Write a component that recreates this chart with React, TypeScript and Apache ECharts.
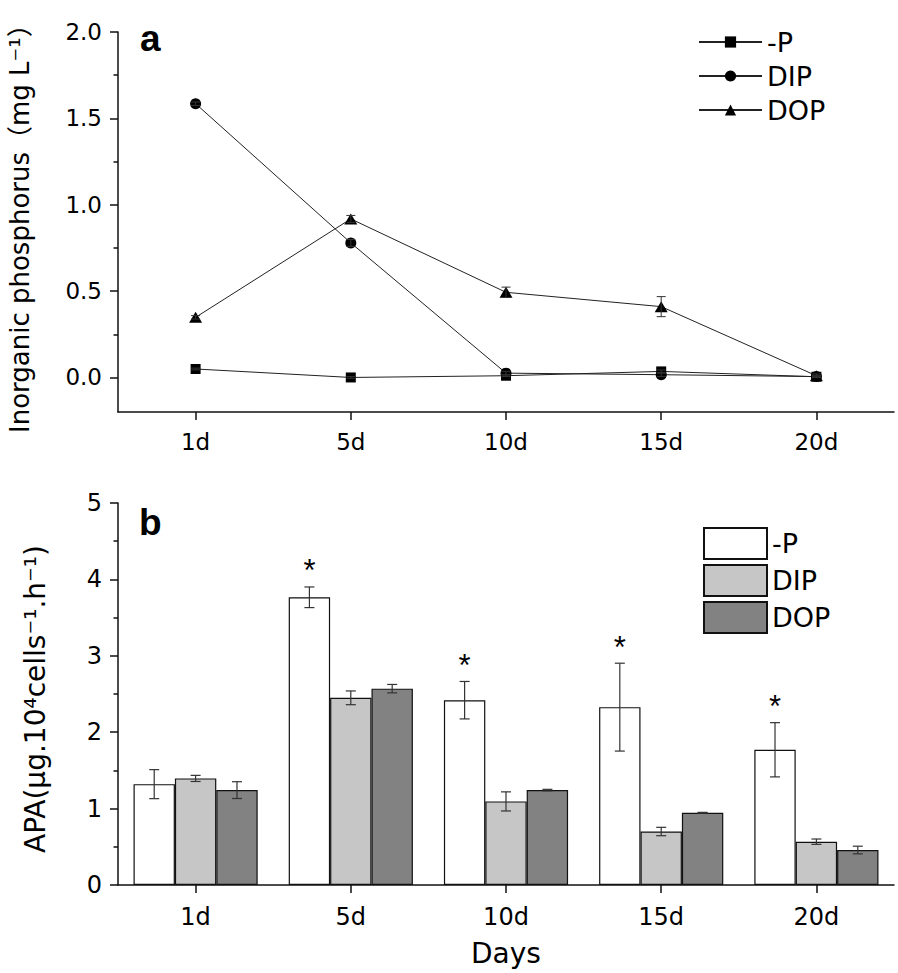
import React, { useEffect, useRef } from 'react';
import * as echarts from 'echarts';

// Categories
const days = ['1d', '5d', '10d', '15d', '20d'];
const treatments = ['-P', 'DIP', 'DOP'];

// Panel a: inorganic phosphorus (mg L-1)
const piMinusP = [0.049, 0.0, 0.01, 0.035, 0.004];
const piDIP = [1.585, 0.779, 0.025, 0.016, 0.005];
const piDOP = [0.348, 0.918, 0.493, 0.41, 0.01];
const piMinusPErr = [0.005, 0.005, 0.005, 0.008, 0.003];
const piDIPErr = [0.01, 0.02, 0.01, 0.01, 0.005];
const piDOPErr = [0.01, 0.02, 0.03, 0.058, 0.01];
const piTicks = [0, 0.5, 1, 1.5, 2];
const piMinorTicks = [0.25, 0.75, 1.25, 1.75];

// Panel b: APA (µg.10^4 cells^-1.h^-1)
const apaMinusP = [1.32, 3.766, 2.419, 2.328, 1.77];
const apaDIP = [1.395, 2.45, 1.094, 0.7, 0.567];
const apaDOP = [1.242, 2.57, 1.242, 0.946, 0.458];
const apaMinusPErr = [0.19, 0.135, 0.245, 0.575, 0.355];
const apaDIPErr = [0.04, 0.09, 0.125, 0.055, 0.035];
const apaDOPErr = [0.11, 0.055, 0.01, 0.005, 0.05];
const apaSignificant = [false, true, true, true, true];

const FONT = 'DejaVu Sans';
const AX = '#111';

function App() {
  const ref = useRef<HTMLDivElement>(null);
  useEffect(() => {
    if (!ref.current) return;
    const chart = echarts.init(ref.current, null, { renderer: 'svg' });

    const lineErr = (params: any, api: any) => {
      const i = api.value(0);
      const v = api.value(1);
      const e = api.value(2);
      if (!(e > 0)) return null;
      const t = api.coord([i, v + e]);
      const b = api.coord([i, v - e]);
      const hw = 4.5;
      const st = { stroke: '#333', lineWidth: 1 };
      return {
        type: 'group',
        children: [
          { type: 'line', shape: { x1: t[0], y1: t[1], x2: b[0], y2: b[1] }, style: st },
          { type: 'line', shape: { x1: t[0] - hw, y1: t[1], x2: t[0] + hw, y2: t[1] }, style: st },
          { type: 'line', shape: { x1: b[0] - hw, y1: b[1], x2: b[0] + hw, y2: b[1] }, style: st },
        ],
      };
    };

    const barErr = (k: number) => (params: any, api: any) => {
      const i = api.value(0);
      const v = api.value(1);
      const e = api.value(2);
      const star = api.value(3);
      const band = api.size([1, 0])[0];
      const bw = (band * 0.8) / 3;
      const off = (k - 1) * bw;
      const t = api.coord([i, v + e]);
      const b = api.coord([i, v - e]);
      const x = t[0] + off;
      const hw = 5;
      const st = { stroke: '#333', lineWidth: 1.2 };
      const children: any[] = [
        { type: 'line', shape: { x1: x, y1: t[1], x2: x, y2: b[1] }, style: st },
        { type: 'line', shape: { x1: x - hw, y1: t[1], x2: x + hw, y2: t[1] }, style: st },
        { type: 'line', shape: { x1: x - hw, y1: b[1], x2: x + hw, y2: b[1] }, style: st },
      ];
      if (star) {
        children.push({
          type: 'text',
          x: x,
          y: t[1] - 16,
          style: {
            text: '*',
            fontSize: 31,
            fontFamily: 'Liberation Sans',
            fill: '#000',
            align: 'center',
            verticalAlign: 'middle',
          },
        });
      }
      return { type: 'group', children };
    };

    const linePairs = [
      { name: treatments[0], vals: piMinusP, errs: piMinusPErr, symbol: 'rect', size: 10 },
      { name: treatments[1], vals: piDIP, errs: piDIPErr, symbol: 'circle', size: 11 },
      { name: treatments[2], vals: piDOP, errs: piDOPErr, symbol: 'triangle', size: [13, 11] },
    ];
    const barPairs = [
      { name: treatments[0] + ' ', vals: apaMinusP, errs: apaMinusPErr, color: '#ffffff' },
      { name: treatments[1] + ' ', vals: apaDIP, errs: apaDIPErr, color: '#c6c6c6' },
      { name: treatments[2] + ' ', vals: apaDOP, errs: apaDOPErr, color: '#828282' },
    ];

    const series: any[] = [];
    linePairs.forEach((p) => {
      series.push({
        type: 'line',
        name: p.name,
        xAxisIndex: 0,
        yAxisIndex: 0,
        data: p.vals,
        symbol: p.symbol,
        symbolSize: p.size,
        showAllSymbol: true,
        lineStyle: { color: '#222', width: 1 },
        itemStyle: { color: '#000' },
        z: 3,
      });
      series.push({
        type: 'custom',
        xAxisIndex: 0,
        yAxisIndex: 0,
        renderItem: lineErr,
        data: p.vals.map((v, i) => [i, v, p.errs[i]]),
        encode: { x: 0, y: 1 },
        z: 4,
        silent: true,
      });
    });
    barPairs.forEach((p, k) => {
      series.push({
        type: 'bar',
        name: p.name,
        xAxisIndex: 1,
        yAxisIndex: 2,
        data: p.vals,
        barGap: '0%',
        barCategoryGap: '20%',
        itemStyle: { color: p.color, borderColor: '#111', borderWidth: 1.2 },
        z: 2,
      });
      series.push({
        type: 'custom',
        xAxisIndex: 1,
        yAxisIndex: 2,
        renderItem: barErr(k),
        data: p.vals.map((v, i) => [i, v, p.errs[i], k === 0 && apaSignificant[i] ? 1 : 0]),
        encode: { x: 0, y: 1 },
        z: 5,
        silent: true,
      });
    });

    const axisLine = { show: true, onZero: false, lineStyle: { color: AX, width: 1.5 } };

    chart.setOption({
      animation: false,
      backgroundColor: '#fff',
      textStyle: { fontFamily: FONT, color: '#000' },
      grid: [
        { left: 118, top: 32, width: 776, height: 380 },
        { left: 118, top: 503, width: 776, height: 382 },
      ],
      xAxis: [
        {
          type: 'category',
          gridIndex: 0,
          data: days,
          boundaryGap: true,
          axisLine,
          axisTick: { show: true, alignWithLabel: true, length: 8, lineStyle: { color: AX, width: 1.5 } },
          axisLabel: { fontSize: 23, fontFamily: FONT, color: '#000', margin: 18 },
          splitLine: { show: false },
        },
        {
          type: 'category',
          gridIndex: 1,
          data: days,
          boundaryGap: true,
          axisLine,
          axisTick: { show: true, alignWithLabel: true, length: 8, lineStyle: { color: AX, width: 1.5 } },
          axisLabel: { fontSize: 24, fontFamily: FONT, color: '#000', margin: 20 },
          splitLine: { show: false },
          name: 'Days',
          nameLocation: 'middle',
          nameGap: 54,
          nameTextStyle: { fontSize: 28, fontFamily: FONT, color: '#000' },
        },
      ],
      yAxis: [
        {
          type: 'value',
          gridIndex: 0,
          min: -0.2,
          max: 2.0,
          axisLine,
          axisTick: { show: true, length: 8, customValues: piTicks, lineStyle: { color: AX, width: 1.5 } },
          axisLabel: {
            fontSize: 23,
            fontFamily: FONT,
            color: '#000',
            margin: 16,
            customValues: piTicks,
            formatter: (v: number) => v.toFixed(1),
          },
          splitLine: { show: false },
        },
        {
          type: 'value',
          gridIndex: 0,
          position: 'left',
          offset: 0,
          min: -0.2,
          max: 2.0,
          axisLine: { show: false },
          axisTick: { show: true, length: 4.5, customValues: piMinorTicks, lineStyle: { color: AX, width: 1.5 } },
          axisLabel: { show: false },
          splitLine: { show: false },
        },
        {
          type: 'value',
          gridIndex: 1,
          min: 0,
          max: 5,
          interval: 1,
          axisLine,
          axisTick: { show: true, length: 8, lineStyle: { color: AX, width: 1.5 } },
          minorTick: { show: true, splitNumber: 2, length: 4.5, lineStyle: { color: AX, width: 1.5 } },
          axisLabel: { fontSize: 24, fontFamily: FONT, color: '#000', margin: 16 },
          splitLine: { show: false },
        },
      ],
      legend: [
        {
          data: treatments,
          orient: 'vertical',
          left: 698,
          top: 27,
          padding: 0,
          itemWidth: 63,
          itemHeight: 14,
          itemGap: 4,
          selectedMode: false,
          textStyle: { fontSize: 27, fontFamily: FONT, color: '#000', lineHeight: 30 },
        },
        {
          data: barPairs.map((p) => p.name),
          orient: 'vertical',
          left: 703,
          top: 527,
          padding: 0,
          icon: 'rect',
          itemWidth: 63,
          itemHeight: 31,
          itemGap: 4,
          selectedMode: false,
          formatter: (n: string) => n.trim(),
          textStyle: { fontSize: 27, fontFamily: FONT, color: '#000', lineHeight: 30 },
        },
      ],
      graphic: [
        {
          type: 'text',
          x: 19.5,
          y: 433,
          rotation: Math.PI / 2,
          style: {
            text: 'Inorganic phosphorus（mg L⁻¹）',
            fontSize: 26,
            fontFamily: FONT + ', Noto Sans CJK SC',
            fill: '#000',
            align: 'left',
            verticalAlign: 'middle',
          },
        },
        {
          type: 'text',
          x: 35,
          y: 853,
          rotation: Math.PI / 2,
          style: {
            text: 'APA(μg.10⁴cells⁻¹.h⁻¹)',
            fontSize: 28,
            fontFamily: FONT,
            fill: '#000',
            align: 'left',
            verticalAlign: 'middle',
          },
        },
        {
          type: 'text',
          x: 140,
          y: 38,
          style: {
            text: 'a',
            fontSize: 37,
            fontWeight: 'bold',
            fontFamily: 'Liberation Sans',
            fill: '#000',
            align: 'left',
            verticalAlign: 'middle',
          },
        },
        {
          type: 'text',
          x: 139,
          y: 522,
          style: {
            text: 'b',
            fontSize: 37,
            fontWeight: 'bold',
            fontFamily: 'Liberation Sans',
            fill: '#000',
            align: 'left',
            verticalAlign: 'middle',
          },
        },
      ],
      series,
    });
    return () => chart.dispose();
  }, []);
  return (
    <div
      ref={ref}
      style={{ position: 'fixed', left: 0, top: 0, width: 898, height: 973, background: '#fff' }}
    />
  );
}

export default App;
